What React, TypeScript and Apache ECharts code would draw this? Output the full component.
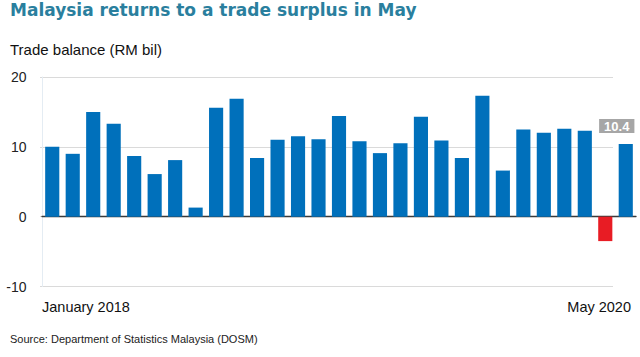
import React, { useEffect, useRef } from "react";
import * as echarts from "echarts";

const months = [
  "Jan 2018", "Feb 2018", "Mar 2018", "Apr 2018", "May 2018", "Jun 2018",
  "Jul 2018", "Aug 2018", "Sep 2018", "Oct 2018", "Nov 2018", "Dec 2018",
  "Jan 2019", "Feb 2019", "Mar 2019", "Apr 2019", "May 2019", "Jun 2019",
  "Jul 2019", "Aug 2019", "Sep 2019", "Oct 2019", "Nov 2019", "Dec 2019",
  "Jan 2020", "Feb 2020", "Mar 2020", "Apr 2020", "May 2020",
];
const tradeBalance = [
  10.0, 9.0, 15.0, 13.3, 8.7, 6.1, 8.1, 1.3, 15.6, 16.9, 8.4, 11.0,
  11.5, 11.1, 14.4, 10.8, 9.1, 10.5, 14.3, 10.9, 8.4, 17.3, 6.6, 12.5,
  12.0, 12.6, 12.3, -3.5, 10.4,
];
const yTicks = { min: -10, max: 20, interval: 10 };
const firstLabel = "January 2018";
const lastLabel = "May 2020";
const titleText = "Malaysia returns to a trade surplus in May";
const unitText = "Trade balance (RM bil)";
const sourceText = "Source: Department of Statistics Malaysia (DOSM)";

const FONT = "'Liberation Sans', Arial, Helvetica, sans-serif";
const TITLE_FONT = "'DejaVu Sans', 'Liberation Sans', Arial, sans-serif";

export default function App() {
  const ref = useRef<HTMLDivElement>(null);
  useEffect(() => {
    if (!ref.current) return;
    const chart = echarts.init(ref.current, null, { renderer: "svg" });
    const last = tradeBalance.length - 1;
    const data = tradeBalance.map((v, i) => {
      const item: any = {
        value: v,
        itemStyle: { color: v < 0 ? "#e81c24" : "#0070bb" },
      };
      if (i === last) {
        item.label = {
          show: true,
          position: "top",
          distance: 11,
          offset: [-9, 0],
          formatter: (p: any) => p.value.toFixed(1),
          backgroundColor: "#a6a6a6",
          color: "#ffffff",
          fontFamily: FONT,
          fontWeight: "bold",
          fontSize: 13,
          lineHeight: 13,
          padding: [1, 5, 0, 5],
        };
      }
      return item;
    });
    chart.setOption({
      animation: false,
      backgroundColor: "#ffffff",
      textStyle: { fontFamily: FONT },
      title: [
        {
          text: titleText,
          left: 10,
          top: 1.5,
          padding: 0,
          textStyle: { fontFamily: TITLE_FONT, fontSize: 17, fontWeight: "bold", color: "#2a7f9e" },
        },
        {
          text: unitText,
          left: 10,
          top: 42,
          padding: 0,
          textStyle: { fontFamily: FONT, fontSize: 15, fontWeight: "normal", color: "#111111" },
        },
        {
          text: sourceText,
          left: 10,
          top: 333,
          padding: 0,
          textStyle: { fontFamily: FONT, fontSize: 11, fontWeight: "normal", color: "#222222" },
        },
      ],
      grid: [
        { left: 42, right: 4, top: 77, bottom: 70.5 },
        { left: 40, right: 27, top: 77, bottom: 70.5 },
      ],
      xAxis: [
        {
          type: "category",
          gridIndex: 0,
          data: months,
          axisLine: { show: true, onZero: true, lineStyle: { color: "#3a3a3a", width: 1.3 } },
          axisTick: { show: false },
          axisLabel: { show: false },
          splitLine: { show: false },
        },
        {
          type: "value",
          gridIndex: 0,
          position: "bottom",
          min: 0,
          max: months.length,
          interval: months.length,
          axisLine: { show: false, onZero: false },
          axisTick: { show: false },
          splitLine: { show: false },
          axisLabel: {
            show: true,
            margin: 13,
            fontFamily: FONT,
            fontSize: 14.5,
            color: "#111111",
            alignMinLabel: "left",
            alignMaxLabel: "right",
            formatter: (v: number) => (v === 0 ? "{a|" + firstLabel + "}" : "{b|" + lastLabel + "}"),
            rich: {
              a: { fontFamily: FONT, fontSize: 14.5, color: "#111111" },
              b: { fontFamily: FONT, fontSize: 14.5, color: "#111111", padding: [0, 5, 0, 0] },
            },
          },
        },
        {
          type: "value",
          gridIndex: 1,
          min: 0,
          max: 1,
          show: false,
        },
      ],
      yAxis: [
        {
          type: "value",
          gridIndex: 0,
          min: yTicks.min,
          max: yTicks.max,
          interval: yTicks.interval,
          axisLine: { show: true, lineStyle: { color: "#e4ecf3", width: 1 } },
          axisTick: { show: false },
          splitLine: { show: false },
          axisLabel: { margin: 15.5, fontFamily: FONT, fontSize: 14, color: "#222222" },
        },
        {
          type: "value",
          gridIndex: 1,
          min: yTicks.min,
          max: yTicks.max,
          interval: yTicks.interval,
          axisLine: { show: false },
          axisTick: { show: false },
          axisLabel: { show: false },
          splitLine: { show: true, lineStyle: { color: "#dadada", width: 1 } },
        },
      ],
      series: [
        {
          type: "bar",
          xAxisIndex: 0,
          yAxisIndex: 0,
          data,
          barCategoryGap: "31%",
          z: 3,
        },
      ],
    });
    return () => chart.dispose();
  }, []);
  return (
    <div
      ref={ref}
      style={{ position: "fixed", left: 0, top: 0, width: 640, height: 357 }}
    />
  );
}
